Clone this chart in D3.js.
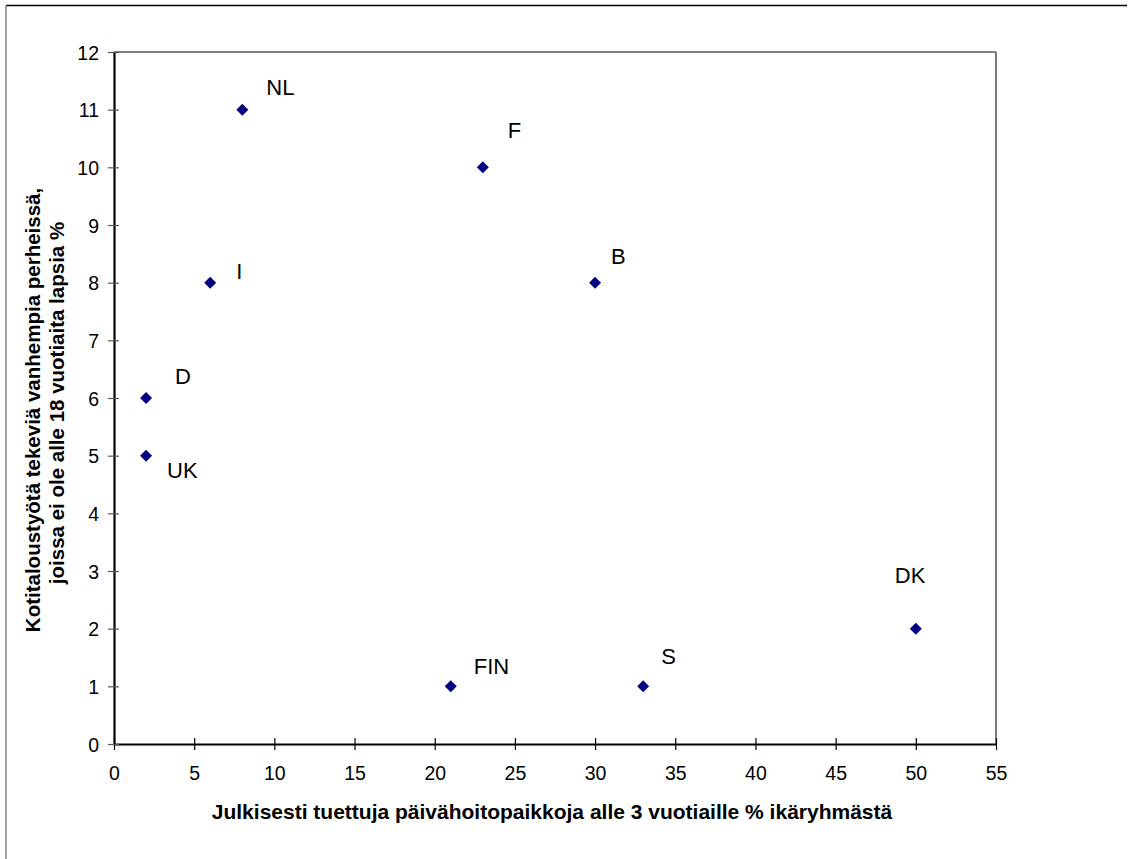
<!DOCTYPE html>
<html>
<head>
<meta charset="utf-8">
<script src="https://cdn.jsdelivr.net/npm/d3@7"></script>
<style>
  html, body { margin: 0; padding: 0; background: #fff; }
  svg { display: block; font-family: "Liberation Sans", Arial, sans-serif; }
</style>
</head>
<body>
<svg id="chart" width="1131" height="859"></svg>
<script>
// ---- data ----
const countries  = ["NL", "F", "B", "I", "D", "UK", "FIN", "S", "DK"];
const daycare    = [8, 23, 30, 6, 2, 2, 21, 33, 50];   // x: % publicly supported day-care places, under 3
const homemakers = [11, 10, 8, 8, 6, 5, 1, 1, 2];       // y: % homemaker parents
const xTicks = [0, 5, 10, 15, 20, 25, 30, 35, 40, 45, 50, 55];
const yTicks = [0, 1, 2, 3, 4, 5, 6, 7, 8, 9, 10, 11, 12];
const xTitle = "Julkisesti tuettuja päivähoitopaikkoja alle 3 vuotiaille % ikäryhmästä";
const yTitle1 = "Kotitaloustyötä tekeviä vanhempia perheissä,";
const yTitle2 = "joissa ei ole alle 18 vuotiaita lapsia %";

// label offsets (presentation only)
const labelOffsets = {
  NL: [24, -15], F: [25, -29], B: [16, -19], I: [26, -4], D: [29, -14],
  UK: [21, 22], FIN: [23, -12], S: [18, -22], DK: [-21, -46]
};

const svg = d3.select("#chart");
const L = 114, R = 996, T = 52, B = 744;

const x = d3.scaleLinear().domain([0, 55]).range([L, R]);
const y = d3.scaleLinear().domain([0, 12]).range([B, T]);

// outer frame (top + left visible)
svg.append("line").attr("x1", 6).attr("x2", 1127).attr("y1", 5.5).attr("y2", 5.5)
  .attr("stroke", "#000").attr("stroke-width", 1.5);
svg.append("line").attr("x1", 6).attr("x2", 6).attr("y1", 5).attr("y2", 859)
  .attr("stroke", "#808080").attr("stroke-width", 1.5);

// plot area border (top + right, gray)
svg.append("line").attr("x1", L).attr("x2", R).attr("y1", T).attr("y2", T)
  .attr("stroke", "#808080").attr("stroke-width", 2);
svg.append("line").attr("x1", R).attr("x2", R).attr("y1", T).attr("y2", B)
  .attr("stroke", "#505050").attr("stroke-width", 1.5);

// axes
const xAxis = d3.axisBottom(x).tickValues(xTicks).tickSize(0).tickPadding(0).tickFormat(d3.format("d"));
const gx = svg.append("g").attr("transform", `translate(0,${B})`).call(xAxis);
gx.select(".domain").attr("stroke", "#000").attr("stroke-width", 2.2);
gx.selectAll(".tick line").attr("y1", -6).attr("y2", 6).attr("stroke", "#000").attr("stroke-width", 1.2);
gx.selectAll(".tick text").attr("y", 36).attr("dy", null)
  .attr("font-size", "19.5px").attr("fill", "#000").attr("font-family", "Liberation Sans, Arial, sans-serif");

const yAxis = d3.axisLeft(y).tickValues(yTicks).tickSize(0).tickPadding(0).tickFormat(d3.format("d"));
const gy = svg.append("g").attr("transform", `translate(${L},0)`).call(yAxis);
gy.select(".domain").attr("stroke", "#000").attr("stroke-width", 2.2);
gy.selectAll(".tick line").attr("x1", -6).attr("x2", 5).attr("stroke", "#555").attr("stroke-width", 1.2);
gy.selectAll(".tick text").attr("x", -15).attr("dy", "0.36em")
  .attr("font-size", "19.5px").attr("fill", "#000").attr("font-family", "Liberation Sans, Arial, sans-serif");

// points
const pts = countries.map((c, i) => ({ c, x: daycare[i], y: homemakers[i] }));
const diamond = d3.symbol().type(d3.symbolSquare).size(72);
svg.append("g").selectAll("path").data(pts).join("path")
  .attr("d", diamond)
  .attr("transform", d => `translate(${x(d.x)},${y(d.y)}) rotate(45)`)
  .attr("fill", "#000080");

// point labels
svg.append("g").selectAll("text").data(pts).join("text")
  .attr("x", d => x(d.x) + labelOffsets[d.c][0])
  .attr("y", d => y(d.y) + labelOffsets[d.c][1])
  .attr("font-size", "22px").attr("fill", "#000")
  .text(d => d.c);

// axis titles
svg.append("text").attr("x", 552).attr("y", 819).attr("text-anchor", "middle")
  .attr("font-size", "21px").attr("font-weight", "bold").text(xTitle);
svg.append("text").attr("transform", "translate(40,410) rotate(-90)").attr("text-anchor", "middle")
  .attr("font-size", "20.5px").attr("font-weight", "bold").text(yTitle1);
svg.append("text").attr("transform", "translate(64,403) rotate(-90)").attr("text-anchor", "middle")
  .attr("font-size", "20.5px").attr("font-weight", "bold").text(yTitle2);
</script>
</body>
</html>
